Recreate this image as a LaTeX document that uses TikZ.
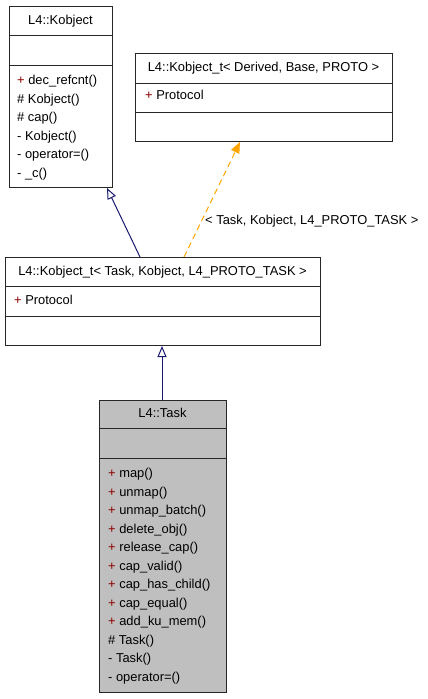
\documentclass[tikz,border=0pt]{standalone}
\usepackage{fontspec}
\setmainfont{Liberation Sans}
\usetikzlibrary{arrows.meta,calc}
\definecolor{edgeblue}{RGB}{25,25,112}
\definecolor{edgeorange}{RGB}{255,165,0}
\definecolor{plusred}{RGB}{139,0,0}
\definecolor{taskgray}{RGB}{191,191,191}
\begin{document}
\begin{tikzpicture}[x=1pt,y=-1pt,
  umlbox/.style={draw=black!85, line width=1pt, inner sep=0pt, anchor=north west},
  sep/.style={draw=black!85, line width=1pt},
  txt/.style={inner sep=0pt, anchor=base west, font=\fontsize{12.9}{15}\selectfont},
  ttl/.style={inner sep=0pt, anchor=base, font=\fontsize{12.9}{15}\selectfont},
  inherit/.style={draw=edgeblue, line width=1pt, -{Triangle[open, length=11pt, width=9pt, fill=white]}},
  tmplarrow/.style={draw=edgeorange, line width=1pt, dash pattern=on 6pt off 4pt, -{Triangle[length=11pt, width=9pt, fill=edgeorange]}}
]
\useasboundingbox (0,0) rectangle (428,699);
\newcommand{\pl}{\textcolor{plusred}{+}}

% L4::Kobject
\node[umlbox, minimum width=103pt, minimum height=181pt] (kob) at (9,6) {};
\draw[sep] ($(kob.north west)+(0,29)$) -- ($(kob.north east)+(0,29)$);
\draw[sep] ($(kob.north west)+(0,59)$) -- ($(kob.north east)+(0,59)$);
\node[ttl] (kobt) at (60.5,24.5) {L4::Kobject};
\foreach \t [count=\i from 0] in {{\pl\ dec\_refcnt()},{\# Kobject()},{\# cap()},{- Kobject()},{- operator=()},{- \_c()}}
  \node[txt] (kobm\i) at (17,84.5+18.5*\i) {\t};

% L4::Kobject_t< Derived, Base, PROTO >
\node[umlbox, minimum width=257pt, minimum height=88pt] (tmpl) at (135,53) {};
\draw[sep] ($(tmpl.north west)+(0,30)$) -- ($(tmpl.north east)+(0,30)$);
\draw[sep] ($(tmpl.north west)+(0,59)$) -- ($(tmpl.north east)+(0,59)$);
\node[ttl] (tmplt) at (263.5,71.5) {L4::Kobject\_t< Derived, Base, PROTO >};
\node[txt] (tmplm) at (145,99.5) {\pl\ Protocol};

% L4::Kobject_t< Task, Kobject, L4_PROTO_TASK >
\node[umlbox, minimum width=315pt, minimum height=88pt] (mid) at (5,257) {};
\draw[sep] ($(mid.north west)+(0,29)$) -- ($(mid.north east)+(0,29)$);
\draw[sep] ($(mid.north west)+(0,59)$) -- ($(mid.north east)+(0,59)$);
\node[ttl] (midt) at (162.5,275.5) {L4::Kobject\_t< Task, Kobject, L4\_PROTO\_TASK >};
\node[txt] (midm) at (14,304.5) {\pl\ Protocol};

% L4::Task
\node[umlbox, fill=taskgray, minimum width=127pt, minimum height=292pt] (task) at (99,400) {};
\draw[sep] ($(task.north west)+(0,28)$) -- ($(task.north east)+(0,28)$);
\draw[sep] ($(task.north west)+(0,58)$) -- ($(task.north east)+(0,58)$);
\node[ttl] (taskt) at (162.5,417.5) {L4::Task};
\foreach \t [count=\i from 0] in {{\pl\ map()},{\pl\ unmap()},{\pl\ unmap\_batch()},{\pl\ delete\_obj()},{\pl\ release\_cap()},{\pl\ cap\_valid()},{\pl\ cap\_has\_child()},{\pl\ cap\_equal()},{\pl\ add\_ku\_mem()},{\# Task()},{- Task()},{- operator=()}}
  \node[txt] (taskm\i) at (108,477.5+18.5*\i) {\t};

% connectors
\draw[inherit] ($(mid.north west)+(135,0)$) -- ($(kob.south west)+(98,0)$);
\draw[tmplarrow] ($(mid.north west)+(179,0)$) -- ($(tmpl.south west)+(105,0)$);
\node[txt] (lbl) at (205,224.5) {< Task, Kobject, L4\_PROTO\_TASK >};
\draw[inherit] ($(task.north west)+(63,0)$) -- ($(mid.south west)+(157,0)$);
\end{tikzpicture}
\end{document}
